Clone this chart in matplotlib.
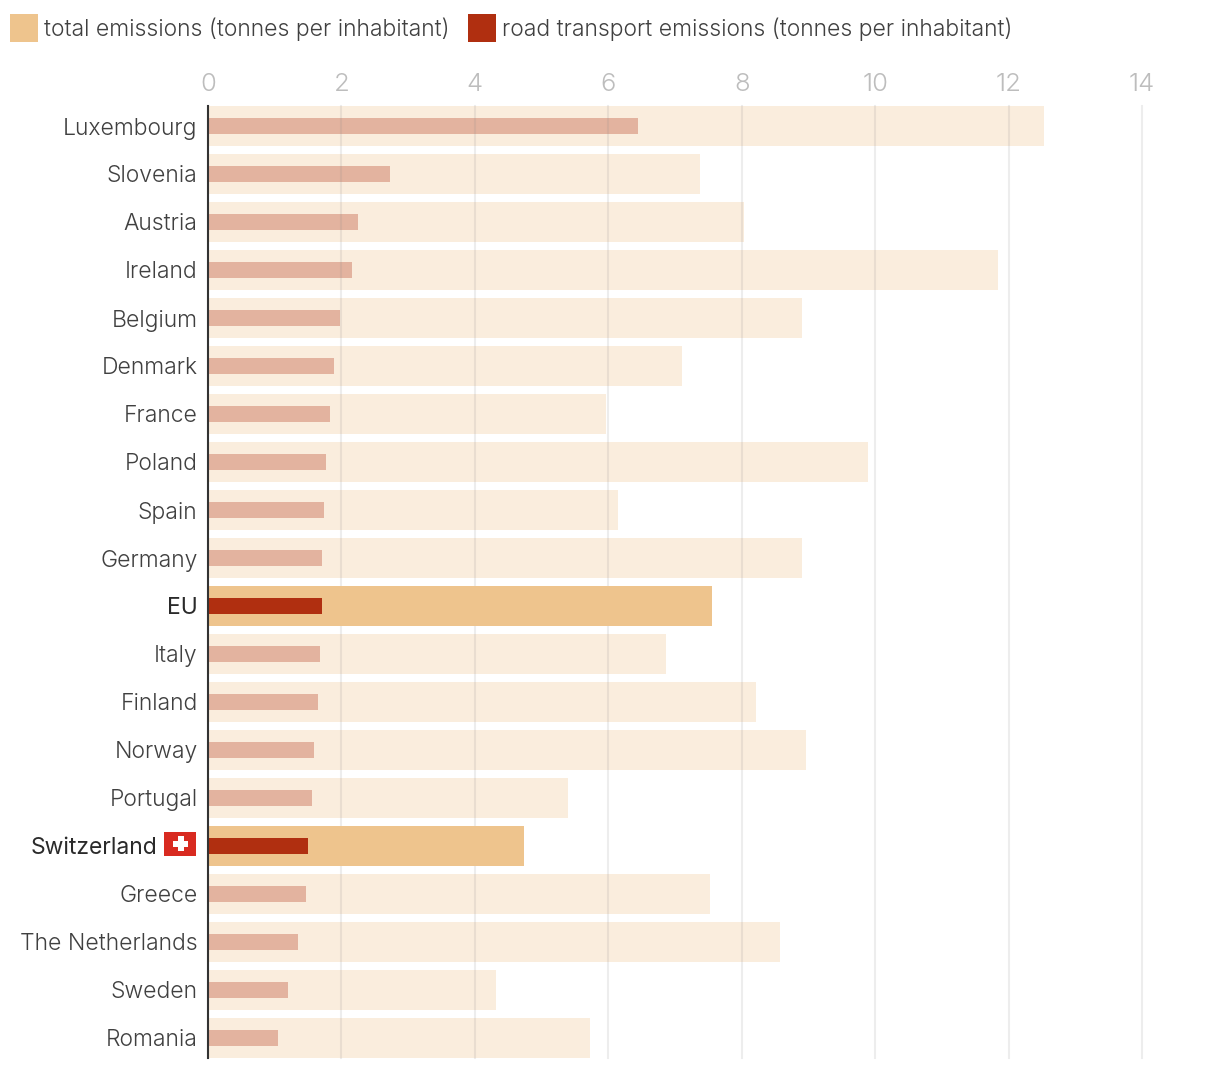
import matplotlib.pyplot as plt
from matplotlib.patches import Rectangle

countries = ["Luxembourg", "Slovenia", "Austria", "Ireland", "Belgium", "Denmark", "France", "Poland", "Spain", "Germany",
             "EU", "Italy", "Finland", "Norway", "Portugal", "Switzerland", "Greece", "The Netherlands", "Sweden", "Romania"]
total = [12.53, 7.38, 8.03, 11.84, 8.91, 7.11, 5.97, 9.9, 6.15, 8.91,
         7.56, 6.87, 8.22, 8.97, 5.4, 4.74, 7.53, 8.58, 4.32, 5.73]
road = [6.45, 2.73, 2.25, 2.16, 1.98, 1.89, 1.83, 1.77, 1.74, 1.71,
        1.71, 1.68, 1.65, 1.59, 1.56, 1.5, 1.47, 1.35, 1.2, 1.05]
highlight = ["EU", "Switzerland"]
ticks = [0, 2, 4, 6, 8, 10, 12, 14]

plt.rcParams["font.family"] = ["Inter", "DejaVu Sans"]
plt.rcParams["font.weight"] = 300

W, H = 1220, 1070
fig = plt.figure(figsize=(W / 100, H / 100), dpi=100)

# axes box in pixels: x=0 at 208, x=14 at 1142, rows 48 px apart
ax = fig.add_axes([208 / W, 1 - 1058 / H, (1142 - 208) / W, (1058 - 106) / H])
ax.set_xlim(0, 14)
ax.set_ylim(19 + 20 / 48, -20 / 48)

ypos = list(range(len(countries)))
for y, c, t, r in zip(ypos, countries, total, road):
    if c in highlight:
        ax.barh(y, t, height=40 / 48, color="#EEC48D", zorder=3)
        ax.barh(y, r, height=16 / 48, color="#B02F10", zorder=4)
    else:
        ax.barh(y, t, height=40 / 48, color="#FAEDDD", lw=0, zorder=1)
        ax.barh(y, r, height=16 / 48, color="#B02F10", alpha=0.3, lw=0, zorder=1.5)

ax.set_xticks(ticks)
ax.xaxis.tick_top()
ax.tick_params(axis="x", length=0, labelsize=18.5, labelcolor="#BDBDBD", pad=7)
ax.set_yticks(ypos)
ax.set_yticklabels(countries)
ax.tick_params(axis="y", length=0, labelsize=16.5, labelcolor="#404040", pad=7.5)
ax.grid(axis="x", color="#888888", alpha=0.15, linewidth=1.5, zorder=2)
ax.set_axisbelow(False)
for line in ax.get_xgridlines():
    line.set_clip_on(False)
for s in ["top", "right", "bottom"]:
    ax.spines[s].set_visible(False)
ax.spines["left"].set_color("#333333")
ax.spines["left"].set_linewidth(1.5)
ax.spines["left"].set_zorder(5)

for lab in ax.get_yticklabels():
    lab.set_va("center_baseline")
    if lab.get_text() in highlight:
        lab.set_color("#2A2A2A")
        lab.set_fontweight(400)
    if lab.get_text() == "Switzerland":
        lab.set_x(-40 / 934)


def px_rect(x, y, w, h, color):
    fig.add_artist(Rectangle((x / W, 1 - (y + h) / H), w / W, h / H, color=color, transform=fig.transFigure, lw=0))


# flag
px_rect(164, 832, 32, 24, "#D82A20")
px_rect(177.5, 836, 6, 15, "white")
px_rect(172.5, 841, 15.5, 5.5, "white")

# legend
px_rect(10, 14, 28, 28, "#EEC48D")
fig.text(44 / W, 1 - 29 / H, "total emissions (tonnes per inhabitant)", fontsize=16.5, color="#404040", va="center")
px_rect(468, 14, 28, 28, "#B02F10")
fig.text(502 / W, 1 - 29 / H, "road transport emissions (tonnes per inhabitant)", fontsize=16.5, color="#404040", va="center")

fig.savefig("out.png", dpi=100)
